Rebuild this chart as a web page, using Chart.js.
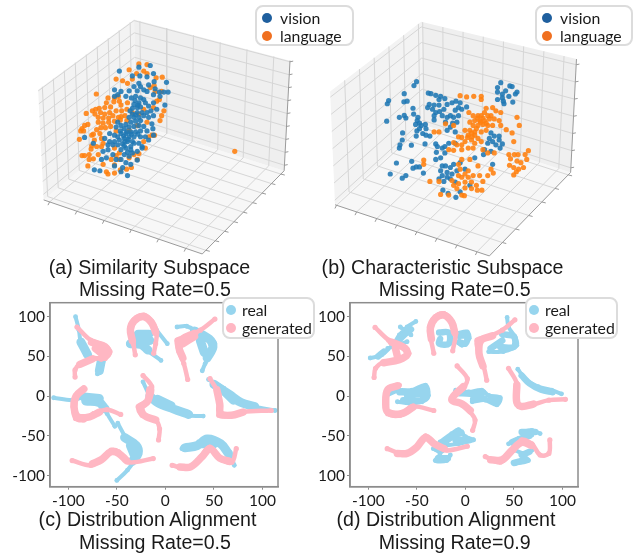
<!DOCTYPE html>
<html>
<head>
<meta charset="utf-8">
<script src="https://cdn.jsdelivr.net/npm/chart.js@4"></script>
<style>
  body { margin: 0; background: #fff; }
  #page { position: relative; width: 638px; height: 556px; overflow: hidden; }
  #page > div.plot { position: absolute; }
  .cap { position: absolute; font-family: "Liberation Sans", sans-serif; font-size: 19.6px; color: #1a1a1a; white-space: nowrap; transform: translate(-50%, -50%); z-index: 3; }
  .legend { position: absolute; box-sizing: border-box; background: #fff; border: 2px solid #dcdcdc; border-radius: 8px; z-index: 4; font-family: Lato, sans-serif; font-size: 15.8px; color: #1a1a1a; }
  .legend span { position: absolute; white-space: nowrap; line-height: 18px; }
  .legend i { position: absolute; width: 10px; height: 10px; border-radius: 50%; }
</style>
</head>
<body>
<div id="page">
  <div class="plot" style="left:0;top:0;width:320px;height:280px"><canvas id="chartA"></canvas></div>
  <div class="plot" style="left:318px;top:0;width:320px;height:280px"><canvas id="chartB"></canvas></div>
  <div class="plot" style="left:0;top:280px;width:320px;height:276px"><canvas id="chartC"></canvas></div>
  <div class="plot" style="left:318px;top:280px;width:320px;height:276px"><canvas id="chartD"></canvas></div>
</div>
<script>
// top row in projected units
const visionA = [[355,207],[450,190],[415,195],[395,222],[418,222],[460,215],[440,225],[415,245],[400,255],[385,268],[340,265],[360,270],[350,280],[340,285],[375,285],[392,290],[420,255],[445,250],[462,240],[500,242],[465,262],[478,272],[492,272],[505,272],[460,280],[440,270],[430,265],[410,268],[405,285],[420,290],[430,295],[415,305],[400,310],[410,320],[395,322],[420,318],[435,305],[445,315],[460,305],[480,285],[495,312],[470,325],[452,330],[440,335],[425,335],[410,335],[395,340],[385,350],[400,350],[415,350],[430,345],[445,350],[460,345],[420,360],[405,362],[390,365],[375,372],[360,375],[350,365],[345,380],[370,385],[385,380],[400,378],[415,375],[430,378],[455,370],[458,385],[440,392],[420,392],[405,395],[390,395],[375,400],[360,400],[350,410],[340,405],[325,400],[310,415],[325,425],[340,425],[355,420],[370,415],[385,410],[400,410],[420,410],[435,410],[460,405],[445,420],[425,440],[415,430],[395,425],[380,425],[365,432],[350,435],[335,435],[320,435],[305,455],[320,450],[335,465],[360,450],[375,445],[390,440],[380,458],[370,465],[395,460],[410,455],[425,445],[385,470],[360,480],[345,480],[315,475],[300,480],[410,482],[375,490],[390,495],[340,500],[365,505],[295,515],[278,512],[248,412],[380,530],[360,518],[275,430],[403,298],[412,312],[388,330],[405,342],[378,395],[368,408],[392,402],[382,418],[372,425],[358,392],[412,402],[400,430],[390,450],[370,438]];
const languageA = [[415,185],[440,187],[385,203],[430,207],[408,215],[395,232],[365,237],[345,232],[380,245],[440,215],[468,228],[487,226],[462,252],[450,258],[284,278],[340,290],[352,285],[320,290],[315,305],[338,302],[355,300],[380,305],[360,312],[328,318],[310,320],[293,322],[282,325],[272,330],[297,335],[310,340],[325,335],[345,330],[362,330],[378,325],[253,338],[280,340],[290,350],[305,352],[322,352],[335,345],[352,350],[372,345],[248,375],[258,372],[240,385],[236,392],[290,365],[305,368],[322,365],[340,362],[358,358],[312,382],[328,378],[298,382],[285,388],[275,402],[245,392],[232,418],[270,405],[295,400],[345,392],[485,345],[492,330],[480,360],[478,295],[470,300],[485,270],[465,270],[430,325],[360,348],[378,360],[395,335],[410,375],[440,365],[455,405],[463,405],[445,410],[430,425],[435,445],[415,462],[300,415],[278,420],[285,440],[270,438],[268,448],[300,440],[305,430],[340,445],[355,460],[345,468],[262,465],[248,468],[240,468],[290,465],[275,478],[262,480],[305,495],[330,480],[355,480],[340,497],[385,475],[400,465],[410,480],[258,500],[315,518],[320,525],[340,522],[358,512],[392,505],[377,510],[710,455],[460,320],[415,340],[385,390]];
const visionB = [[291,240],[283,252],[253,277],[205,298],[201,308],[262,300],[252,302],[280,322],[199,362],[238,350],[253,344],[258,352],[282,340],[295,350],[293,360],[300,368],[288,372],[305,375],[318,372],[320,385],[300,385],[292,392],[310,400],[320,405],[332,408],[290,408],[248,398],[247,420],[275,436],[240,435],[238,445],[317,432],[229,491],[276,486],[290,503],[300,503],[280,507],[210,525],[258,530],[247,538],[312,522],[327,275],[335,277],[350,282],[365,285],[378,292],[360,295],[330,310],[345,312],[360,312],[325,320],[340,325],[350,335],[362,332],[375,325],[345,345],[345,358],[370,345],[385,350],[395,345],[405,350],[420,345],[412,300],[400,305],[425,305],[445,318],[420,320],[410,328],[430,325],[385,310],[380,365],[402,368],[415,365],[395,380],[385,390],[410,395],[350,432],[355,440],[370,445],[378,440],[352,458],[378,460],[390,430],[410,430],[365,475],[350,480],[550,243],[578,253],[585,255],[540,258],[565,268],[600,272],[595,278],[540,272],[555,278],[575,285],[540,295],[558,300],[555,290],[587,303],[560,308],[520,398],[530,408],[545,408],[515,415],[545,420],[525,425],[510,430],[535,435],[555,432],[548,445],[520,455],[500,450],[497,465],[525,495],[370,500],[380,500],[395,505],[405,495],[415,515],[365,515],[385,520],[400,525],[370,530],[385,535],[360,540],[375,548],[395,540],[410,550],[440,510],[470,475],[372,575],[388,585],[412,597],[425,580],[455,560],[425,490]];
const languageB = [[425,283],[445,287],[467,285],[490,285],[490,295],[452,335],[465,345],[480,345],[505,322],[525,320],[535,330],[550,335],[500,335],[490,345],[510,345],[520,345],[470,360],[485,360],[500,360],[515,355],[530,355],[545,360],[600,350],[455,365],[465,375],[480,375],[495,372],[510,375],[525,375],[607,375],[550,375],[567,388],[585,398],[590,425],[440,390],[455,390],[470,395],[490,395],[505,390],[470,405],[450,405],[430,412],[420,410],[460,420],[480,415],[440,425],[430,435],[415,435],[405,428],[470,430],[490,425],[390,450],[405,452],[430,450],[450,445],[465,445],[380,370],[360,395],[345,395],[405,375],[313,482],[313,495],[575,465],[592,465],[603,465],[635,453],[625,465],[580,478],[600,485],[612,490],[630,480],[577,498],[590,505],[605,510],[620,505],[598,518],[590,528],[520,510],[527,522],[495,450],[510,460],[530,460],[455,480],[430,480],[420,495],[425,510],[450,515],[440,525],[420,530],[400,545],[430,535],[450,535],[465,530],[480,500],[485,530],[495,548],[510,530],[440,550],[460,550],[475,560],[420,555],[405,560],[440,568],[460,570],[478,575],[492,575],[430,590],[438,592],[365,588],[332,548],[360,548],[390,590],[415,570],[488,365],[505,368],[475,385],[460,398],[478,352],[495,352],[448,412],[462,410]];

// bottom row, strokes of the t-SNE clusters in data units: thin whole paths and the fat parts
const realC = [
  [[-92.5,100],[-89,83],[-87,66],[-82,52]],[[-63,47.5],[-66,35],[-70,28]],
  [[-38,66],[-26,66],[-19,58],[-4.5,45]],[[-9,83],[2,66]],
  [[12,87],[22,88],[36,79],[46,73],[51,66],[46,52],[41,41],[38,32]],
  [[-115,-2],[-96,-5],[-84,-1],[-70,-1],[-65,-9],[-60,-22],[-52,-38]],
  [[-23,18],[-17,3],[-8.5,-7],[5,-15.5],[22,-24],[39,-25]],
  [[44.5,21],[60,10],[70,-3],[91,-13],[113,-18]],
  [[-49,-34],[-41,-51],[-31,-60],[-26.5,-66],[-31,-79],[-39,-93],[-50,-106]],
  [[17,-66],[33,-64],[43,-52],[57,-60],[67,-74],[71,-87]]
];
const realCoreC = [
  [[-87,68],[-80,52]],[[-66,44],[-68,32]],
  [[-28,78],[-17,78]],[[-36,66],[-25,65],[-18,58]],[[-28,72],[-16,70]],
  [[30,82],[45,72],[49,62],[43,48]],[[36,70],[40,55]],
  [[-84,-1],[-68,-3]],[[-82,-6],[-68,-8],[-62,-16]],
  [[-16,0],[-8,-8],[8,-16],[24,-23]],[[-8,-4],[6,-12]],
  [[50,15],[66,2],[78,-8],[92,-13]],[[60,7],[70,-5]],
  [[-42,-52],[-30,-62],[-28,-72],[-34,-82]],[[-36,-62],[-32,-74]],
  [[20,-65],[33,-62],[43,-54],[57,-60],[65,-72]],[[35,-60],[50,-60]]
];
const generatedC = [
  [[-91,87],[-77,70.5],[-63,64],[-57,56],[-62,47.5],[-72,47.5],[-87,41],[-93,33],[-93,24]],
  [[-31,52],[-33,66],[-36,83],[-32.5,96],[-22,102],[-14,94],[-9,81],[-10,66],[-12,54]],
  [[51,97],[36,83],[22,75],[12,70.5],[14,56],[19,41],[23,21]],
  [[-84,10],[-92.5,1],[-95,-13],[-92.5,-28],[-84,-30],[-74,-22],[-60,-17],[-46,-23]],
  [[-23,26],[-14,12],[-17,-5],[-28,-13],[-24,-24],[-10,-30],[-6,-41],[-7,-55]],
  [[46,22],[55,3],[56.5,-13],[55,-24],[67,-25],[80,-20],[109,-18]],
  [[-96,-81],[-77,-87],[-67,-81],[-56,-68],[-48,-70],[-38,-83],[-12.5,-78.5]],
  [[7,-87],[22,-91],[33,-81],[46,-64],[57,-79],[68.5,-83],[73,-66]]
];
const generatedCoreC = [
  [[-76,68],[-62,62],[-59,54],[-66,48]],[[-72,60],[-66,54]],[[-75,47],[-88,40]],
  [[-34,70],[-36,84],[-32,95],[-22,100],[-14,92],[-10,80]],
  [[30,79],[18,72],[14,62],[18,48]],[[30,75],[18,66]],
  [[-84,9],[-92,0],[-94,-14],[-90,-26],[-78,-26],[-68,-20]],
  [[-16,8],[-18,-6],[-25,-14],[-22,-24],[-10,-30]],
  [[53,8],[56,-10],[57,-22],[68,-24],[80,-20]],
  [[-75,-85],[-66,-80],[-56,-70],[-48,-72],[-40,-81]],
  [[15,-89],[26,-89],[38,-76],[46,-66],[56,-78],[66,-82]]
];
const realD = [
  [[-51,94],[-60,87],[-68,77],[-74,66],[-86,52],[-98,48]],[[-56,77],[-67,87]],[[-60,68.5],[-80,60]],
  [[-8.5,79],[2,81],[4,73],[-3.5,64],[-8.5,68]],
  [[43,99],[44.5,87],[51,75],[53,64],[39,56],[24,56]],
  [[-81,1],[-68,7.5],[-55,7.5],[-41,14],[-38,1],[-44.5,-7],[-58,-9],[-70,-7]],
  [[-10,7.5],[3.5,5.5],[17,7.5],[24,1],[36,-2],[32.5,-11],[20.5,-5],[7,-7]],
  [[54,34],[63,20],[75,12],[89,7.5],[99,3]],
  [[-26,-57.5],[-14,-47],[-7,-42],[0,-51],[8.5,-55],[-7,-60],[-22,-62]],[[-33,-66],[-26,-72],[-31,-81],[-19,-81],[-15.5,-74]],
  [[58,-45],[68.5,-43],[77,-47]],[[44.5,-60],[55,-53],[68.5,-49]],[[51,-68],[61,-72],[68.5,-68]],[[51,-85],[65,-81],[58,-74]]
];
const realCoreD = [
  [[-56,84],[-64,76],[-72,66]],[[-84,56],[-90,50]],
  [[-27,80],[-17,80],[-17,66],[-27,66],[-26,72]],[[-7,76],[2,76],[0,66],[-6,68]],
  [[36,62],[50,62],[50,75],[38,78]],[[26,60],[38,70]],
  [[-68,5],[-52,6],[-42,8],[-40,-2],[-50,-6],[-64,-5]],[[-60,1],[-45,3]],
  [[-8,4],[6,3],[18,5]],[[8,-4],[20,-3]],[[26,-4],[34,-6]],
  [[58,26],[66,16],[78,8],[90,5]],
  [[-22,-58],[-12,-50],[-4,-46]],[[-10,-56],[2,-54]],[[-28,-78],[-18,-78]],[[-30,-66],[-24,-68]],
  [[58,-45],[72,-45]],[[48,-58],[60,-52],[66,-50]],[[50,-84],[62,-80]],[[58,-74],[66,-70]]
];
const generatedD = [
  [[-93,86.5],[-79,70.5],[-67,64],[-58,54],[-68,46],[-84,43],[-92.5,35],[-94,23.5]],
  [[-32.5,54],[-36,75],[-37,87],[-31,100],[-22,104],[-14,94],[-10,79],[-13,57]],
  [[51,96],[38,83],[24,75],[12,70.5],[14,54],[19,37],[22,20]],
  [[-68,14],[-79,10],[-82,-7],[-80,-22],[-67,-24],[-55,-13],[-32.5,-18]],
  [[-8.5,38],[2,22],[-2,10],[-14,-5],[-3.5,-11],[5,-20],[10,-30],[7.5,-43]],
  [[44.5,35],[53,16],[53,-7],[55,-13],[68.5,-11],[86,-5],[103,-4]],
  [[-80.5,-66],[-63,-73],[-51,-66],[-41,-50],[-31,-60],[-19,-68],[2,-63]],
  [[20.5,-76],[36,-83],[50,-68],[58,-55],[68.5,-60],[77,-74],[86,-72],[87,-55]]
];
const generatedCoreD = [
  [[-76,68],[-62,60],[-60,52],[-68,46],[-84,42]],[[-72,60],[-70,50]],
  [[-35,72],[-36,86],[-31,98],[-22,102],[-14,93],[-11,80]],
  [[28,76],[16,70],[14,54],[18,38]],
  [[-70,13],[-80,8],[-82,-8],[-80,-20],[-66,-22],[-54,-14]],
  [[-2,12],[-14,-4],[-3,-10],[5,-18]],
  [[53,14],[53,-8],[58,-13],[70,-10]],
  [[-70,-72],[-60,-72],[-50,-64],[-41,-52],[-32,-60],[-22,-66]],
  [[26,-80],[38,-80],[48,-68],[58,-58],[68,-62]]
];

const tickValues = [-100, -50, 0, 50, 100];
const legendTop = ['vision', 'language'];
const legendBottom = ['real', 'generated'];
const captions = [
  ['(a) Similarity Subspace', 149.5, 267], ['Missing Rate=0.5', 155, 289],
  ['(b) Characteristic Subspace', 442.5, 267], ['Missing Rate=0.5', 454.7, 289],
  ['(c) Distribution Alignment', 147.5, 519], ['Missing Rate=0.5', 155, 542],
  ['(d) Distribution Alignment', 446, 519], ['Missing Rate=0.9', 454.7, 542]
];

// 3D box corners of each panel, projected units
const boxA = { Lt:[105,265], Bt:[400,48], Rt:[880,175], Lb:[122,605], Bb:[405,370], Rb:[862,515], F:[610,772],
  left:[0.044,0.96,9], right:[0.0375,0.896,6], z:[0.01,0.95,9] };
const boxB = { Lt:[25,270], Bt:[305,55], Rt:[783,170], Lb:[40,620], Bb:[310,372], Rb:[765,520], F:[515,778],
  left:[0.16,0.97,6], right:[0.01,0.92,8], z:[0.05,0.96,7] };

const lerp = (p, q, t) => [p[0] + (q[0] - p[0]) * t, p[1] + (q[1] - p[1]) * t];
const steps = ([a, b, n]) => Array.from({ length: n }, (_, i) => a + (b - a) * i / (n - 1));
const toPts = arr => arr.map(p => ({ x: p[0], y: p[1] }));
const withGaps = segs => segs.flatMap(s => [...toPts(s), { x: NaN, y: NaN }]);

function boxGrid(b) {
  const segs = [];
  steps(b.left).forEach(t => {
    segs.push([lerp(b.Lt, b.Bt, t), lerp(b.Lb, b.Bb, t)]);
    segs.push([lerp(b.Lb, b.Bb, t), lerp(b.F, b.Rb, t)]);
  });
  steps(b.right).forEach(t => {
    segs.push([lerp(b.Bt, b.Rt, t), lerp(b.Bb, b.Rb, t)]);
    segs.push([lerp(b.Bb, b.Rb, t), lerp(b.Lb, b.F, t)]);
  });
  steps(b.z).forEach(t => {
    segs.push([lerp(b.Lt, b.Lb, t), lerp(b.Bt, b.Bb, t)]);
    segs.push([lerp(b.Bt, b.Bb, t), lerp(b.Rt, b.Rb, t)]);
  });
  return segs;
}

function boxTicks(b) {
  const segs = [];
  steps(b.left).forEach(t => {
    const p = lerp(b.F, b.Rb, t);
    segs.push([p, [p[0] + 12, p[1] + 3]]);
  });
  steps(b.right).forEach(t => {
    const p = lerp(b.Lb, b.F, t);
    segs.push([p, [p[0] - 5, p[1] + 10]]);
  });
  steps(b.z).forEach(t => {
    const p = lerp(b.Rt, b.Rb, t);
    segs.push([p, [p[0] + 10, p[1] - 2]]);
  });
  return segs;
}

function lineSet(data, color, width, order, fill) {
  return { data, showLine: true, borderColor: color, borderWidth: width, pointRadius: 0, order,
    fill: fill ? 'shape' : false, backgroundColor: fill || 'transparent', spanGaps: false };
}

function dotSet(label, pts, color, order) {
  return { label, data: toPts(pts), backgroundColor: color, borderColor: color, borderWidth: 0, pointRadius: 2.6, order };
}

function draw3d(id, box, vision, language, visionOnTop) {
  const walls = [
    lineSet(toPts([box.Lt, box.Bt, box.Bb, box.Lb]), 'transparent', 0, 20, '#f3f3f3'),
    lineSet(toPts([box.Bt, box.Rt, box.Rb, box.Bb]), 'transparent', 0, 20, '#efefef'),
    lineSet(toPts([box.Lb, box.Bb, box.Rb, box.F]), 'transparent', 0, 20, '#f7f7f7'),
    lineSet(withGaps(boxGrid(box)), '#d6d6d6', 1, 10),
    lineSet(withGaps([[box.Lb, box.F], [box.F, box.Rb], [box.Rb, box.Rt]].concat(boxTicks(box))), '#9a9a9a', 1, 9)
  ];
  new Chart(document.getElementById(id), {
    type: 'scatter',
    data: { datasets: walls.concat([
      dotSet(legendTop[0], vision, 'rgba(31,119,180,0.88)', visionOnTop ? 1 : 2),
      dotSet(legendTop[1], language, 'rgba(255,127,14,0.88)', visionOnTop ? 2 : 1)
    ]) },
    options: {
      responsive: false, animation: false, events: [],
      layout: { padding: 0 },
      plugins: { legend: { display: false }, tooltip: { enabled: false } },
      scales: {
        x: { type: 'linear', display: false, min: 0, max: 960 },
        y: { type: 'linear', display: false, min: 0, max: 840, reverse: true }
      }
    }
  });
}

const framePlugin = {
  id: 'frame',
  afterDraw(chart) {
    const { ctx, chartArea: a } = chart;
    ctx.save();
    ctx.strokeStyle = '#8c8c8c';
    ctx.lineWidth = 1.5;
    ctx.strokeRect(a.left, a.top, a.right - a.left, a.bottom - a.top);
    ctx.restore();
  }
};

function strokeSet(label, strokes, color, order, width, radius) {
  return { label, data: withGaps(strokes), showLine: true, spanGaps: false, tension: 0.35, borderColor: color, backgroundColor: color,
    borderWidth: width, borderCapStyle: 'round', borderJoinStyle: 'round', pointRadius: radius, pointBorderWidth: 0, order };
}

function axisOpts(min, max, size) {
  return {
    type: 'linear', min, max,
    afterBuildTicks: axis => { axis.ticks = tickValues.map(value => ({ value })); },
    afterFit: axis => { if (axis.isHorizontal()) axis.height = size; else axis.width = size; },
    grid: { drawOnChartArea: false, color: '#8c8c8c', tickLength: 3 },
    border: { color: '#8c8c8c', width: 1.5 },
    ticks: { font: { family: 'Lato', size: 15.5 }, color: '#1a1a1a', padding: 2, maxRotation: 0, autoSkip: false, callback: v => v }
  };
}

function draw2d(id, left, real, realCore, generated, generatedCore, realWidth) {
  new Chart(document.getElementById(id), {
    type: 'scatter',
    data: { datasets: [
      strokeSet(legendBottom[0], real, '#97d5ee', 4, 4, 2.4),
      strokeSet(legendBottom[0], realCore, '#97d5ee', 3, realWidth, 0),
      strokeSet(legendBottom[1], generated, '#ffb7c3', 2, 4.5, 2.6),
      strokeSet(legendBottom[1], generatedCore, '#ffb7c3', 1, 7.5, 0)
    ] },
    options: {
      responsive: false, animation: false, events: [],
      layout: { padding: { left: 0, top: 22.7, right: 320 - left - 228, bottom: 0 } },
      plugins: { legend: { display: false }, tooltip: { enabled: false } },
      scales: { x: axisOpts(-118.8, 116, 69.3), y: axisOpts(-113.9, 117.6, left) }
    },
    plugins: [framePlugin]
  });
}

function addLegend(left, top, width, height, labels, colors, dotX, textX, row1, row2) {
  const box = document.createElement('div');
  box.className = 'legend';
  box.style.cssText = `left:${left}px;top:${top}px;width:${width}px;height:${height}px`;
  labels.forEach((text, i) => {
    const y = i ? row2 : row1;
    const dot = document.createElement('i');
    dot.style.cssText = `left:${dotX - 5}px;top:${y - 5}px;background:${colors[i]}`;
    const span = document.createElement('span');
    span.textContent = text;
    span.style.cssText = `left:${textX}px;top:${y - 9}px`;
    box.append(dot, span);
  });
  document.getElementById('page').append(box);
}

['chartA', 'chartB'].forEach(id => { const c = document.getElementById(id); c.width = 320; c.height = 280; });
['chartC', 'chartD'].forEach(id => { const c = document.getElementById(id); c.width = 320; c.height = 276; });

draw3d('chartA', boxA, visionA, languageA, true);
draw3d('chartB', boxB, visionB, languageB, false);
draw2d('chartC', 50, realC, realCoreC, generatedC, generatedCoreC, 9);
draw2d('chartD', 32, realD, realCoreD, generatedD, generatedCoreD, 6.5);

addLegend(255, 5, 99, 41, legendTop, ['#1f5f9e', '#f07020'], 10, 23, 11, 29);
addLegend(535, 5, 98, 41, legendTop, ['#1f5f9e', '#f07020'], 10, 23, 11, 29);
addLegend(222, 297, 93, 42, legendBottom, ['#97d5ee', '#ffb7c3'], 7, 18, 11, 29);
addLegend(525, 297, 93, 42, legendBottom, ['#97d5ee', '#ffb7c3'], 7, 18, 11, 29);

captions.forEach(([text, x, y]) => {
  const el = document.createElement('div');
  el.className = 'cap';
  el.textContent = text;
  el.style.left = x + 'px';
  el.style.top = y + 'px';
  document.getElementById('page').append(el);
});
</script>
</body>
</html>
